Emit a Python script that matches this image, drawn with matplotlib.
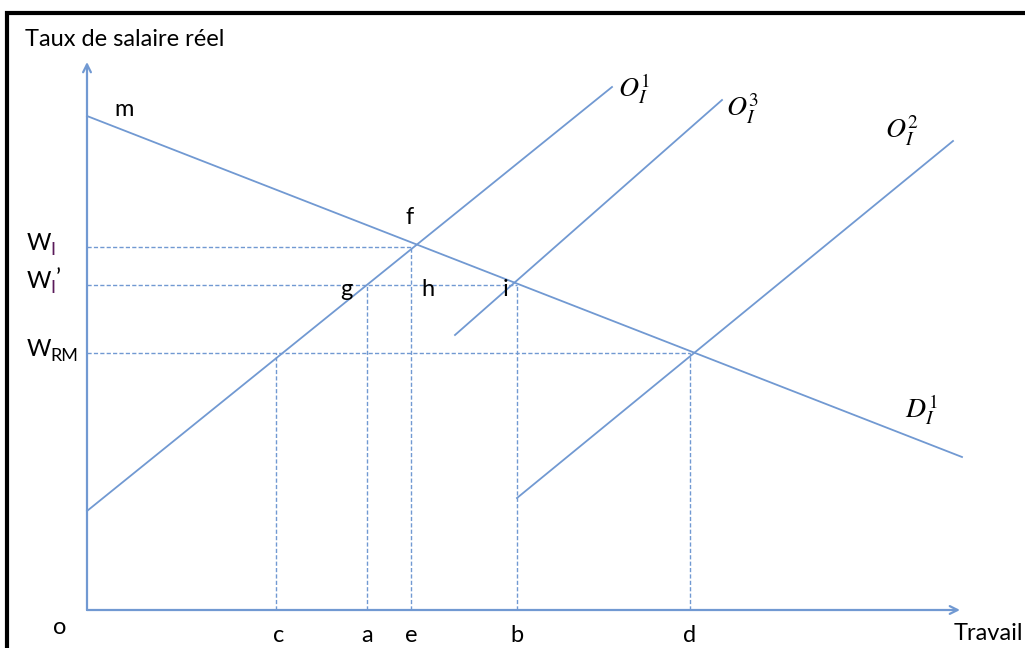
import matplotlib.pyplot as plt
from matplotlib.patches import Rectangle

# labour-market diagram, units measured from origin o
demand = [(0, 494), (875, 153)]          # D_I^1
supply_1 = [(0, 99), (525, 523)]         # O_I^1
supply_3 = [(368, 275), (635, 510)]      # O_I^3
supply_2 = [(430, 112), (866, 469)]      # O_I^2

wages = {'W_I': 363, "W_I'": 325, 'W_RM': 257}
quantities = {'c': 189, 'a': 280, 'e': 324, 'b': 430, 'd': 603}

x_axis_end = 873
y_axis_end = 548

blue = '#7199d2'
text_font = 'Lato'

fig = plt.figure(figsize=(10.25, 6.48), dpi=100)
ax = fig.add_axes([0, 0, 1, 1])
ax.set_xlim(-87, 938)
ax.set_ylim(-38, 610)
ax.axis('off')

# frame around the figure
fig.patches.append(Rectangle((7 / 1025, -0.05), 1.2, (648 - 13) / 648 + 0.05,
                             transform=fig.transFigure, fill=False,
                             edgecolor='black', linewidth=3))

# axes with open arrows
arrow = dict(arrowstyle='->', color=blue, lw=1.6, mutation_scale=14, shrinkA=0, shrinkB=0)
ax.annotate('', xy=(0, y_axis_end), xytext=(0, 0), arrowprops=arrow)
ax.annotate('', xy=(x_axis_end, 0), xytext=(0, 0), arrowprops=arrow)

# curves
for seg in [demand, supply_1, supply_3, supply_2]:
    (x0, y0), (x1, y1) = seg
    ax.plot([x0, x1], [y0, y1], color=blue, lw=1.3)

# dashed guides
dash = dict(color=blue, lw=1.0, linestyle=(0, (3, 1.6)))
ax.plot([0, quantities['e']], [wages['W_I']] * 2, **dash)
ax.plot([quantities['e']] * 2, [0, wages['W_I']], **dash)
ax.plot([0, quantities['b']], [wages["W_I'"]] * 2, **dash)
ax.plot([quantities['a']] * 2, [0, wages["W_I'"]], **dash)
ax.plot([quantities['b']] * 2, [0, wages["W_I'"]], **dash)
ax.plot([0, quantities['d']], [wages['W_RM']] * 2, **dash)
ax.plot([quantities['c']] * 2, [0, wages['W_RM']], **dash)
ax.plot([quantities['d']] * 2, [0, wages['W_RM']], **dash)

fs = 17
ax.text(-62, 570, 'Taux de salaire réel', fontsize=fs, family=text_font, va='center', ha='left')
ax.text(936, -24, 'Travail', fontsize=fs, family=text_font, va='center', ha='right')
ax.text(-27, -17, 'o', fontsize=fs, family=text_font, va='center', ha='center')

for name, q in quantities.items():
    ax.text(q + (3 if name == 'c' else 0), -25, name, fontsize=fs, family=text_font,
            va='center', ha='center')

# wage labels with subscripts
sub_col = '#5a1a5a'
for key, sub, prime in [('W_I', 'I', ''), ("W_I'", 'I', '’'), ('W_RM', 'RM', '')]:
    w = wages[key]
    ax.text(-60, w + 4, 'W', fontsize=fs, family=text_font, va='center', ha='left')
    ax.text(-37, w - 3, sub, fontsize=fs - 4, family=text_font, va='center', ha='left',
            color=sub_col if sub == 'I' else 'black')
    if prime:
        ax.text(-31, w + 6, prime, fontsize=fs, family=text_font, va='center', ha='left')

# point labels
points = {'m': (37, 500), 'f': (323, 393), 'g': (259, 321), 'h': (341, 321), 'i': (419, 321)}
for name, (px, py) in points.items():
    ax.text(px, py, name, fontsize=fs, family=text_font, va='center', ha='center')

# curve labels
curve_labels = [(r'$O_I^1$', 547, 521), (r'$O_I^3$', 656, 501),
                (r'$O_I^2$', 815, 479), (r'$D_I^1$', 834, 200)]
for s, px, py in curve_labels:
    ax.text(px, py, s, fontsize=20, math_fontfamily='stix', va='center', ha='center')

fig.savefig('out.png', dpi=100)
